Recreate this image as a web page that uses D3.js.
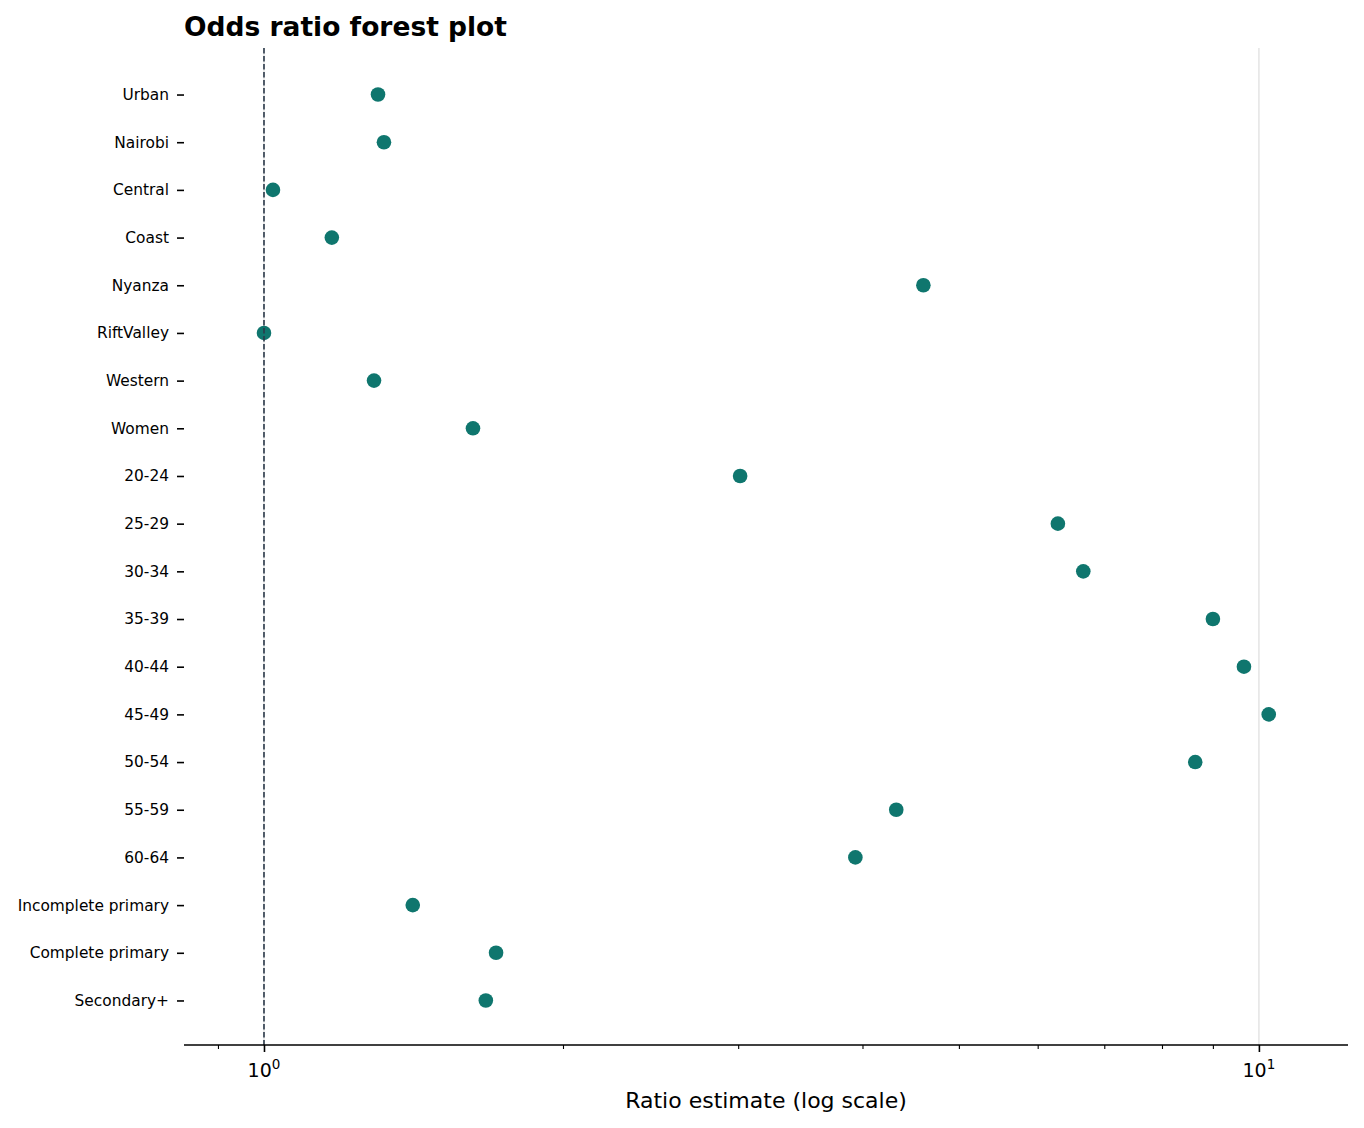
<!DOCTYPE html>
<html>
<head>
<meta charset="utf-8">
<script src="https://cdn.jsdelivr.net/npm/d3@7"></script>
<style>
body { margin: 0; background: #fff; }
text { font-family: "DejaVu Sans", sans-serif; }
</style>
</head>
<body>
<svg id="chart"></svg>
<script>
// odds ratios
var categories = ["Urban", "Nairobi", "Central", "Coast", "Nyanza", "RiftValley", "Western", "Women",
  "20-24", "25-29", "30-34", "35-39", "40-44", "45-49", "50-54", "55-59", "60-64",
  "Incomplete primary", "Complete primary", "Secondary+"];
var oddsRatios = [1.302, 1.320, 1.021, 1.170, 4.60, 1.0, 1.290, 1.622,
  3.01, 6.28, 6.66, 8.99, 9.66, 10.23, 8.63, 4.32, 3.93,
  1.411, 1.711, 1.671];
var majorTicks = [1, 10];
var minorTicks = [0.9, 2, 3, 4, 5, 6, 7, 8, 9];

var width = 1364, height = 1128;
var mLeft = 184, mRight = 1348, mTop = 48, mBottom = 1045;

var svg = d3.select("#chart").attr("width", width).attr("height", height);

var x = d3.scaleLog().domain([0.831, 12.29]).range([mLeft, mRight]);
var y = d3.scalePoint().domain(categories).range([mTop + 1, mBottom + 1]).padding(0.955);

// grid at major ticks
svg.append("g").selectAll("line")
  .data(majorTicks)
  .enter().append("line")
  .attr("x1", function(d) { return x(d); })
  .attr("x2", function(d) { return x(d); })
  .attr("y1", mTop).attr("y2", mBottom)
  .attr("stroke", "#e6e6e6")
  .attr("stroke-width", 1.6);

// points
svg.append("g").selectAll("circle")
  .data(categories)
  .enter().append("circle")
  .attr("cx", function(d, i) { return x(oddsRatios[i]); })
  .attr("cy", function(d) { return y(d); })
  .attr("r", 7.3)
  .attr("fill", "#0f766e");

// reference line at 1
svg.append("line")
  .attr("x1", x(1)).attr("x2", x(1))
  .attr("y1", mTop).attr("y2", mBottom)
  .attr("stroke", "#2b3a4a")
  .attr("stroke-width", 1.6)
  .attr("stroke-dasharray", "5.5,2.5");

// y axis: ticks + labels, no spine
var yAxis = svg.append("g")
  .attr("transform", "translate(" + mLeft + ",0)")
  .call(d3.axisLeft(y).tickSize(7).tickPadding(8));
yAxis.select(".domain").remove();
yAxis.selectAll(".tick line").attr("stroke", "#000").attr("stroke-width", 1.6);
yAxis.selectAll(".tick text").attr("font-size", "15.4px").attr("fill", "#000")
  .style("font-family", "DejaVu Sans");

// x axis
var xAxis = svg.append("g")
  .attr("transform", "translate(0," + mBottom + ")")
  .call(d3.axisBottom(x).tickValues(majorTicks).tickSize(7).tickPadding(6).tickFormat(function() { return ""; }));
xAxis.select(".domain").attr("d", "M" + mLeft + ",0H" + mRight).attr("stroke", "#000").attr("stroke-width", 1.6);
xAxis.selectAll(".tick line").attr("stroke", "#000").attr("stroke-width", 1.6);
xAxis.selectAll(".tick text").remove();

xAxis.selectAll(".minor")
  .data(minorTicks)
  .enter().append("line")
  .attr("class", "minor")
  .attr("x1", function(d) { return x(d); })
  .attr("x2", function(d) { return x(d); })
  .attr("y1", 0).attr("y2", 4)
  .attr("stroke", "#000").attr("stroke-width", 1.1);

var lbl = xAxis.selectAll(".mlabel")
  .data(majorTicks)
  .enter().append("text")
  .attr("class", "mlabel")
  .attr("x", function(d) { return x(d); })
  .attr("y", 32)
  .attr("text-anchor", "middle")
  .attr("font-size", "19px")
  .attr("fill", "#000");
lbl.append("tspan").text("10");
lbl.append("tspan").attr("dy", -8).attr("font-size", "13.5px")
  .text(function(d) { return String(Math.round(Math.log10(d))); });

// axis title
svg.append("text")
  .attr("x", (mLeft + mRight) / 2)
  .attr("y", 1108)
  .attr("text-anchor", "middle")
  .attr("font-size", "22px")
  .attr("fill", "#000")
  .text("Ratio estimate (log scale)");

// title
svg.append("text")
  .attr("x", mLeft)
  .attr("y", 36)
  .attr("font-size", "26.5px")
  .attr("font-weight", "bold")
  .attr("fill", "#000")
  .text("Odds ratio forest plot");
</script>
</body>
</html>
